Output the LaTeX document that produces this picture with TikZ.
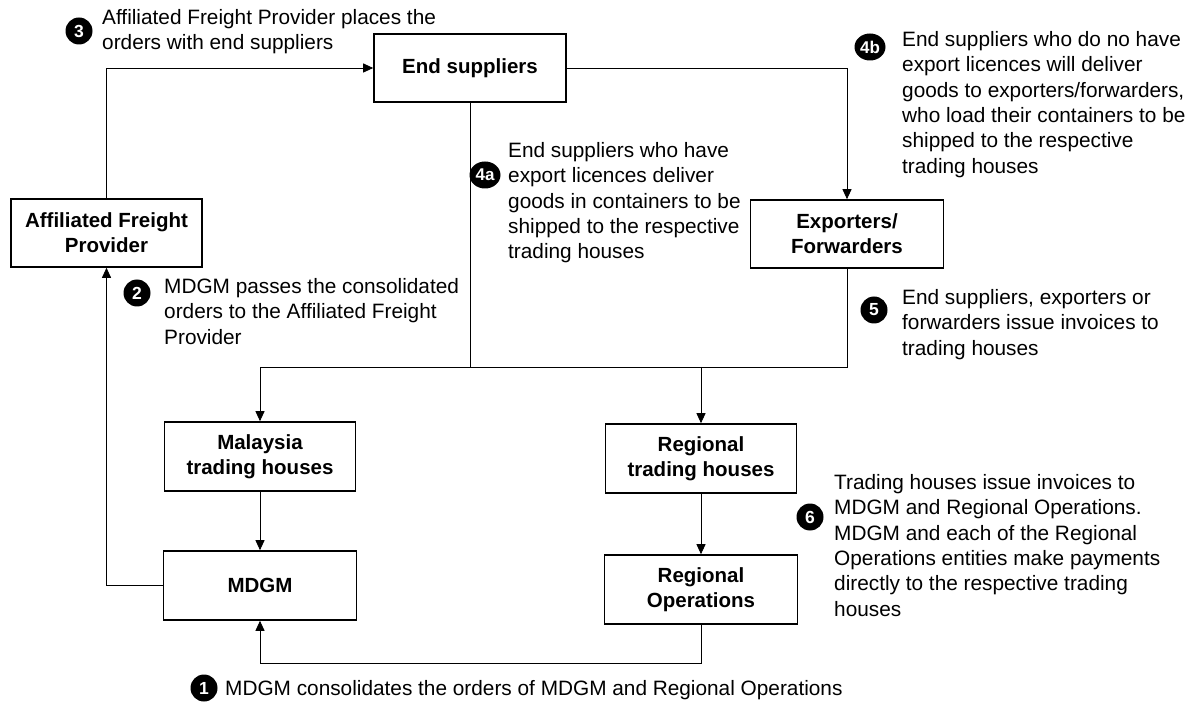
\documentclass[tikz,border=0pt]{standalone}
\usepackage{fontspec}
\setmainfont{Liberation Sans}
\usetikzlibrary{arrows.meta,shapes.geometric}
\begin{document}
\begin{tikzpicture}[x=1pt,y=-1pt,
  box/.style={draw,line width=1.6pt,align=center,font=\fontsize{20.5}{25}\selectfont\bfseries,inner sep=0pt},
  conn/.style={line width=0.9pt},
  arr/.style={conn,-{Triangle[length=10pt,width=9pt]}},
  num/.style={circle,fill=black,text=white,inner sep=0pt,minimum size=27pt,font=\fontsize{17.5}{17.5}\selectfont\bfseries},
  numw/.style={ellipse,fill=black,text=white,inner sep=0pt,minimum width=31pt,minimum height=27pt,font=\fontsize{17}{17}\selectfont\bfseries},
  note/.style={anchor=north west,align=left,inner sep=0pt,font=\fontsize{20.8}{25.4}\selectfont}
]
\useasboundingbox (0,0) rectangle (1195,703);

% boxes
\node[box,minimum width=192pt,minimum height=68pt] (es) at (470,68) {End suppliers};
\node[box,minimum width=191pt,minimum height=68pt] (afp) at (106.5,233) {Affiliated Freight\\Provider};
\node[box,minimum width=193pt,minimum height=68pt] (exp) at (847,234) {Exporters/\\Forwarders};
\node[box,minimum width=191pt,minimum height=69pt] (mal) at (260,456.5) {Malaysia\\trading houses};
\node[box,minimum width=193pt,minimum height=69pt] (mdgm) at (260,585.5) {MDGM};
\node[box,minimum width=191pt,minimum height=69pt] (rth) at (701,458.5) {Regional\\trading houses};
\node[box,minimum width=193pt,minimum height=69pt] (ro) at (701,589.5) {Regional\\Operations};

\coordinate (dist) at (470,367);
\coordinate (bot) at (701,663);

% connectors
\draw[arr] (afp.north) |- (es.west);
\draw[arr] (es.east) -| (exp.north);
\draw[conn] (es.south) -- (dist);
\draw[arr] (exp.south) -- (exp.south |- dist) -| (mal.north);
\draw[arr] (rth.north |- dist) -- (rth.north);
\draw[arr] (mal.south) -- (mdgm.north);
\draw[arr] (rth.south) -- (ro.north);
\draw[arr] (ro.south) -- (bot) -| (mdgm.south);
\draw[arr] (mdgm.west) -| (afp.south);

% numbers
\node[num] (n3) at (79,31) {3};
\node[num] (n2) at (137,293) {2};
\node[numw] (n4a) at (485,175) {4a};
\node[numw] (n4b) at (870,47) {4b};
\node[num] (n5) at (874,310) {5};
\node[num] (n6) at (810,517) {6};
\node[num] (n1) at (204,688) {1};

% notes
\node[note] (t3) at (102,9) {Affiliated Freight Provider places the\\orders with end suppliers};
\node[note] (t2) at (164,278) {MDGM passes the consolidated\\orders to the Affiliated Freight\\Provider};
\node[note] (t4a) at (508,142) {End suppliers who have\\export licences deliver\\goods in containers to be\\shipped to the respective\\trading houses};
\node[note] (t4b) at (902,31) {End suppliers who do no have\\export licences will deliver\\goods to exporters/forwarders,\\who load their containers to be\\shipped to the respective\\trading houses};
\node[note] (t5) at (902,289) {End suppliers, exporters or\\forwarders issue invoices to\\trading houses};
\node[note] (t6) at (834,474) {Trading houses issue invoices to\\MDGM and Regional Operations.\\MDGM and each of the Regional\\Operations entities make payments\\directly to the respective trading\\houses};
\node[note] (t1) at (225,680) {MDGM consolidates the orders of MDGM and Regional Operations};
\end{tikzpicture}
\end{document}
